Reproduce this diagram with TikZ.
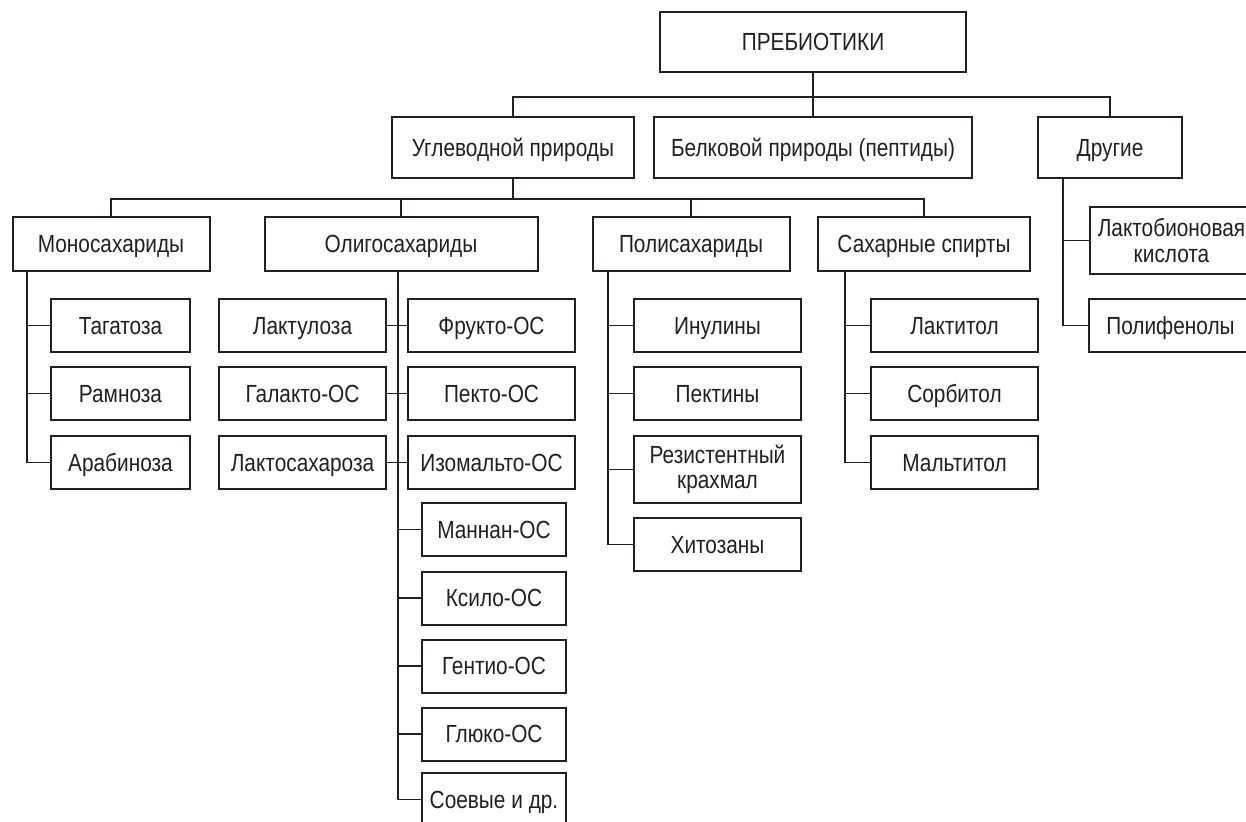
\documentclass[tikz,border=0pt]{standalone}
\usepackage{fontspec}
\setmainfont[FakeStretch=0.84]{Liberation Sans}
\usetikzlibrary{positioning}
\definecolor{pbink}{HTML}{231F20}
\tikzset{
  bx/.style    = {rectangle, draw=pbink, line width=2pt, inner sep=0pt,
                  minimum height=53pt, text=pbink,
                  font=\fontsize{24.8}{25.5}\selectfont,
                  text height=17.6pt, text depth=0pt},
  bxtwo/.style = {align=center, text height=, text depth=},
  ln/.style    = {draw=pbink, line width=1.3pt},
}
\begin{document}
\begin{tikzpicture}[x=1pt,y=-1pt]
  \useasboundingbox (0,0) rectangle (1246,821);
  \clip (0,0) rectangle (1246,821);
  % top levels
  \node[bx, minimum width=306pt, minimum height=60pt] (root) at (813,42) {ПРЕБИОТИКИ};
  \node[bx, minimum width=242pt, minimum height=61pt] (ugl) at (513,147.5) {Углеводной природы};
  \node[bx, minimum width=318pt, minimum height=61pt] (belk) at (813,147.5) {Белковой природы (пептиды)};
  \node[bx, minimum width=144pt, minimum height=61pt] (drug) at (1110,147.5) {Другие};
  \node[bx, minimum width=197pt, minimum height=54pt] (mono) at (111,244) {Моносахариды};
  \node[bx, minimum width=273pt, minimum height=54pt] (oligo) at (401,244) {Олигосахариды};
  \node[bx, minimum width=197pt, minimum height=54pt] (poly) at (691,244) {Полисахариды};
  \node[bx, minimum width=212pt, minimum height=54pt] (spirt) at (924,244) {Сахарные спирты};
  % monosaccharides
  \node[bx, minimum width=139pt] (tag) at (120.5,325.5) {Тагатоза};
  \node[bx, minimum width=139pt] (ram) at (120.5,393.5) {Рамноза};
  \node[bx, minimum width=139pt] (arab) at (120.5,462.5) {Арабиноза};
  % oligosaccharides
  \node[bx, minimum width=167pt] (lakt) at (302.5,325.5) {Лактулоза};
  \node[bx, minimum width=167pt] (galakt) at (302.5,393.5) {Галакто-ОС};
  \node[bx, minimum width=167pt] (laktsah) at (302.5,462.5) {Лактосахароза};
  \node[bx, minimum width=167pt] (fruk) at (491.5,325.5) {Фрукто-ОС};
  \node[bx, minimum width=167pt] (pekto) at (491.5,393.5) {Пекто-ОС};
  \node[bx, minimum width=167pt] (izom) at (491.5,462.5) {Изомальто-ОС};
  \node[bx, minimum width=144pt] (mannan) at (494,529.5) {Маннан-ОС};
  \node[bx, minimum width=144pt] (ksilo) at (494,598) {Ксило-ОС};
  \node[bx, minimum width=144pt] (gentio) at (494,666) {Гентио-ОС};
  \node[bx, minimum width=144pt] (gluko) at (494,734) {Глюко-ОС};
  \node[bx, minimum width=144pt] (soev) at (494,799.5) {Соевые и др.};
  % polysaccharides
  \node[bx, minimum width=167pt] (inul) at (717.5,325.5) {Инулины};
  \node[bx, minimum width=167pt] (pekt) at (717.5,393.5) {Пектины};
  \node[bx, bxtwo, minimum width=167pt, minimum height=67pt] (rez) at (717.5,469.5) {Резистентный\\крахмал};
  \node[bx, minimum width=167pt] (hit) at (717.5,544.5) {Хитозаны};
  % sugar alcohols
  \node[bx, minimum width=167pt] (lakti) at (954.5,325.5) {Лактитол};
  \node[bx, minimum width=167pt] (sorb) at (954.5,393.5) {Сорбитол};
  \node[bx, minimum width=167pt] (malt) at (954.5,462.5) {Мальтитол};
  % others
  \node[bx, bxtwo, minimum width=163pt, minimum height=67pt] (laktob) at (1171.5,240.5) {Лактобионовая\\кислота};
  \node[bx, minimum width=163pt] (polif) at (1170.5,325.5) {Полифенолы};
  % buses
  \coordinate (bus1) at (813,97);
  \coordinate (bus2) at (513,199);
  \draw[ln] (root.south) -- (belk.north);
  \draw[ln] (ugl.north) |- (bus1) -| (drug.north);
  \draw[ln] (ugl.south) -- (bus2);
  \draw[ln] (mono.north) |- (bus2) -| (spirt.north);
  \draw[ln] (oligo.north) -- (oligo.north |- bus2);
  \draw[ln] (poly.north) -- (poly.north |- bus2);
  % trunks
  \coordinate (tmono) at (27,271);
  \coordinate (toligo) at (398,271);
  \coordinate (tpoly) at (608,271);
  \coordinate (tspirt) at (845,271);
  \coordinate (tdrug) at (1063,178);
  \draw[ln] (tmono) |- (arab.west);
  \foreach \n in {tag,ram} \draw[ln] (\n.west) -- (\n.west -| tmono);
  \draw[ln] (toligo) |- (soev.west);
  \foreach \a/\b in {lakt/fruk,galakt/pekto,laktsah/izom} \draw[ln] (\a.east) -- (\b.west);
  \foreach \n in {mannan,ksilo,gentio,gluko} \draw[ln] (\n.west) -- (\n.west -| toligo);
  \draw[ln] (tpoly) |- (hit.west);
  \foreach \n in {inul,pekt,rez} \draw[ln] (\n.west) -- (\n.west -| tpoly);
  \draw[ln] (tspirt) |- (malt.west);
  \foreach \n in {lakti,sorb} \draw[ln] (\n.west) -- (\n.west -| tspirt);
  \draw[ln] (tdrug) |- (polif.west);
  \draw[ln] (laktob.west) -- (laktob.west -| tdrug);
\end{tikzpicture}
\end{document}
